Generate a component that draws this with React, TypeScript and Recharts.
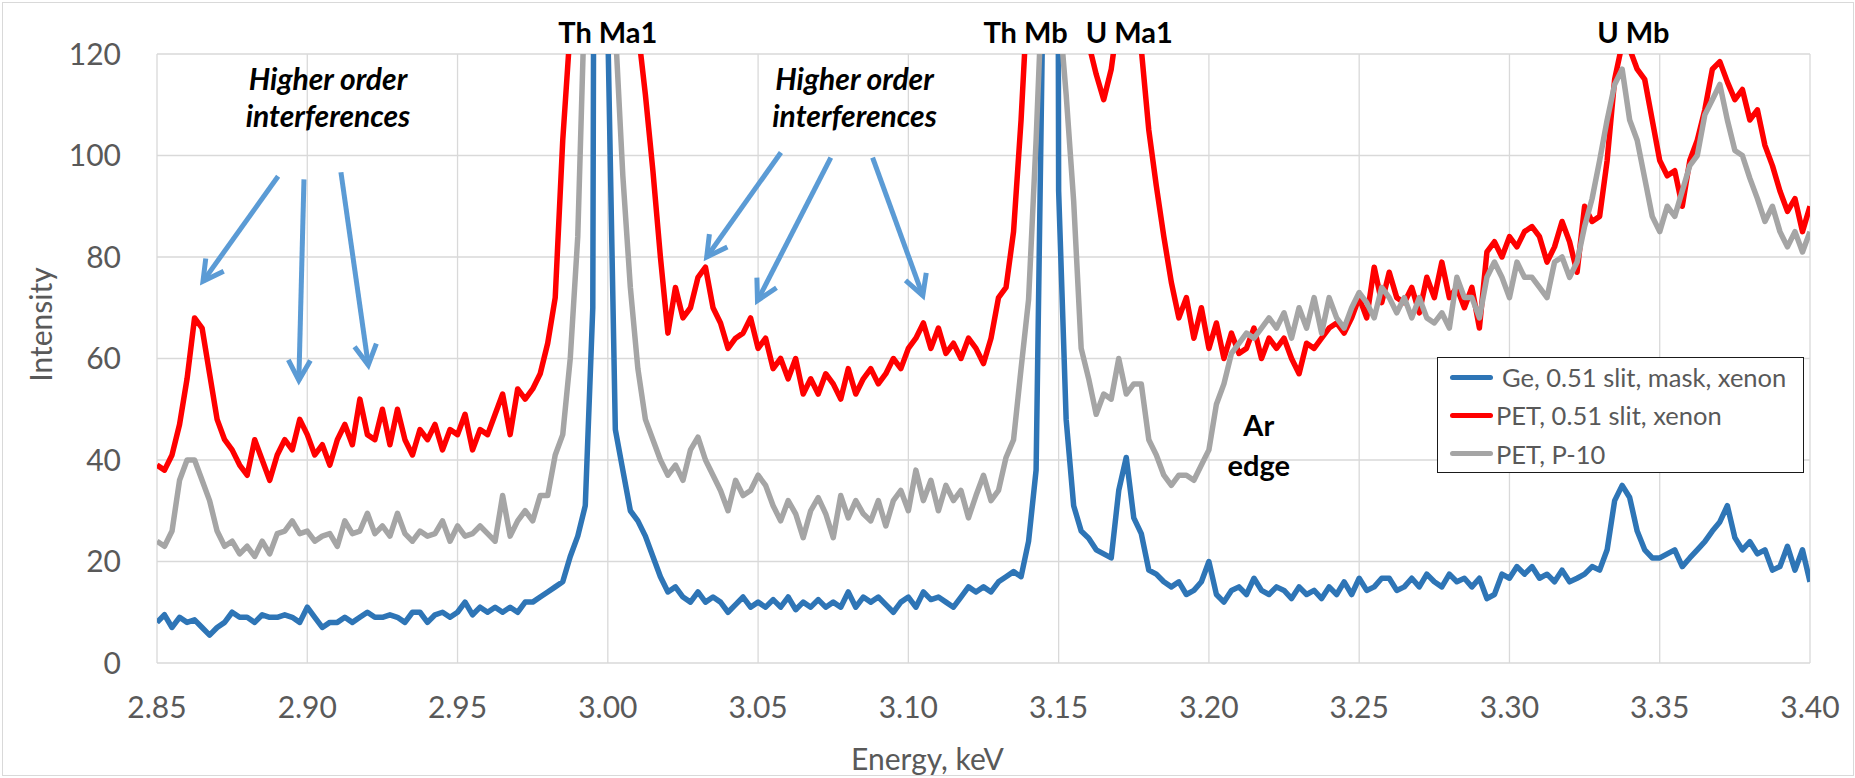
import React from 'react'
import { LineChart, Line, XAxis, YAxis, CartesianGrid, Legend, ReferenceDot, ReferenceLine } from 'recharts'

const FONT = 'Lato, "Open Sans", sans-serif'

// energy grid of the spectra: 2.85 keV, one channel every 2.5 eV
const ENERGY_START = 2.85
const ENERGY_STEP = 0.0025

// Ge, 0.51 slit, mask, xenon
const geSeries = [
  8, 9.5, 7, 9, 8, 8.5, 7, 5.5, 7, 8, 10, 9, 9, 8, 9.5, 9, 9, 9.5, 9, 8,
  11, 9, 7, 8, 8, 9, 8, 9, 10, 9, 9, 9.5, 9, 8, 10, 10, 8, 9.5, 10, 9,
  10, 12, 9.5, 11, 10, 11, 10, 11, 10, 12, 12, 13, 14, 15, 16, 21, 25, 31, 70, 600,
  125, 46, 38, 30, 28, 25, 21, 17, 14, 15, 13, 12, 14, 12, 13, 12, 10, 11.5, 13, 11,
  12, 11, 12.5, 11, 13, 10.5, 12, 11, 12.5, 11, 12, 11, 14, 11, 13, 12, 13, 11.5, 10, 12,
  13, 11, 14, 12.5, 13, 12, 11, 13, 15, 14, 15, 14, 16, 17, 18, 17, 24, 38, 140, 800,
  93, 48, 31, 26, 24.6, 22.3, 21.5, 20.7, 34, 40.5, 28.6, 25.5, 18.3, 17.5, 16, 15, 16, 13.5, 14.3, 16,
  20, 13.5, 12, 14.3, 15, 13.5, 16.7, 14.3, 13.5, 15, 14.3, 12.7, 15, 13.5, 14.3, 12.7, 15, 13.5, 16, 13.5,
  16.7, 14.3, 15, 16.7, 16.7, 14.3, 15, 16.7, 15, 17.5, 16, 15, 17.5, 16, 16.7, 15, 16.7, 12.7, 13.5, 17.5,
  16.7, 19, 17.5, 19, 16.7, 17.5, 16, 18.3, 16, 16.7, 17.5, 19, 18.3, 22.3, 32, 35, 32.6, 26, 22.3, 20.7,
  20.7, 21.5, 22.3, 19, 20.7, 22.3, 23.9, 26, 27.8, 31, 24.7, 22.3, 23.9, 21.5, 22.3, 18.3, 19, 23, 18.3, 22.3,
  16,
]

// PET, 0.51 slit, xenon
const petXenonSeries = [
  39, 38, 41, 47, 56, 68, 66, 57, 48, 44, 42, 39, 37, 44, 40, 36, 41, 44, 42, 48,
  45, 41, 43, 39, 44, 47, 43, 52, 45, 44, 50, 43, 50, 44, 41, 46, 44, 47, 42, 46,
  45, 49, 42, 46, 45, 49, 53, 45, 54, 52, 54, 57, 63, 72, 103, 125, 160, 200, 300, 600,
  300, 200, 150, 135, 125, 112, 97, 80, 65, 74, 68, 70, 76, 78, 70, 67, 62, 64, 65, 68,
  62, 64, 58, 60, 56, 60, 53, 56, 53, 57, 55, 52, 58, 53, 56, 58, 55, 57, 60, 58,
  62, 64, 67, 62, 66, 61, 63, 60, 64, 62, 59, 64, 72, 74, 85, 107, 135, 180, 300, 600,
  300, 180, 140, 128, 122, 116, 111, 117, 128, 135, 130, 121, 105, 94, 84, 75, 68, 72, 64, 70,
  62, 67, 60, 65, 61, 62, 66, 60, 64, 62, 64, 60, 57, 63, 62, 64, 66, 67, 65, 68,
  72, 68, 78, 71, 77, 72, 71, 74, 69, 76, 72, 79, 72, 74, 70, 74, 66, 81, 83, 80,
  84, 82, 85, 86, 84, 79, 82, 87, 83, 77, 90, 87, 88, 99, 115, 122, 121, 117, 115, 107,
  99, 96, 97, 90, 99, 103, 109, 117, 118.5, 114.5, 111, 113, 107, 109, 102, 98, 93, 89, 91.5, 85,
  90,
]

// PET, P-10
const petP10Series = [
  24, 23, 26, 36, 40, 40, 36, 32, 26, 23, 24, 21.5, 23, 21, 24, 21.5, 25.5, 26, 28, 25.5,
  26, 24, 25, 25.5, 23, 28, 25.5, 26, 29.5, 25.5, 27, 25, 29.5, 25.5, 24, 26, 25, 25.5, 28, 24,
  27, 25, 25.5, 27, 25.5, 24, 33, 25, 28, 30, 28, 33, 33, 41, 45, 60, 84, 135, 250, 400,
  250, 125, 96, 74, 58, 48, 44, 40, 37, 39, 36, 42, 44.5, 40, 37, 34, 30, 36, 33, 34,
  37, 35, 31, 28, 32, 29.4, 24.7, 30, 32.6, 29.4, 24.7, 33, 28.6, 32, 29.4, 28, 32, 27, 32, 34,
  30, 38, 32, 36, 30, 35, 32, 34, 28.6, 33, 37, 32, 34, 40.5, 44, 58, 71.6, 103, 140, 300,
  130, 112, 91, 62, 56, 49, 53, 52, 60, 53, 55, 55, 44, 41, 37, 35, 37, 37, 36, 39,
  42, 51, 55, 61, 63, 65, 64, 66, 68, 66, 69, 64, 70, 66, 72, 65, 72, 68, 66, 70,
  73, 71, 68, 74, 72, 69, 72, 68, 72, 68, 67, 69, 66, 76, 72, 72, 68, 76, 79, 76,
  72, 79, 76, 76, 74, 72, 79, 80, 76, 79, 86, 91.5, 99, 107, 114, 117, 107, 103, 95.5, 88,
  85, 90, 88, 93, 98, 100, 108, 111, 114, 107, 101, 100, 95.5, 91.5, 87, 90, 85, 82, 85, 81,
  85,
]

const energyTicks = [2.85, 2.9, 2.95, 3.0, 3.05, 3.1, 3.15, 3.2, 3.25, 3.3, 3.35, 3.4]
const intensityTicks = [0, 20, 40, 60, 80, 100, 120]

const seriesInfo = [
  { key: 'ge', name: 'Ge, 0.51 slit, mask, xenon', color: '#2E75B6' },
  { key: 'petXe', name: 'PET, 0.51 slit, xenon', color: '#FF0000' },
  { key: 'petP10', name: 'PET, P-10', color: '#A5A5A5' },
]

// line names above the peaks
const peakLabels = [
  { text: 'Th Ma1', energy: 3.0, intensity: 122.2 },
  { text: 'Th Mb', energy: 3.139, intensity: 122.2 },
  { text: 'U Ma1', energy: 3.1735, intensity: 122.2 },
  { text: 'U Mb', energy: 3.3412, intensity: 122.2 },
]

const notes = [
  { text: 'Higher order', energy: 2.9069, intensity: 113, italic: true },
  { text: 'interferences', energy: 2.9069, intensity: 105.6, italic: true },
  { text: 'Higher order', energy: 3.0821, intensity: 113, italic: true },
  { text: 'interferences', energy: 3.0821, intensity: 105.6, italic: true },
  { text: 'Ar', energy: 3.2166, intensity: 44.7, italic: false },
  { text: 'edge', energy: 3.2166, intensity: 36.8, italic: false },
]

const arrows = [
  { from: [2.8903, 95.9], to: [2.8653, 75.2] },
  { from: [2.8989, 95.3], to: [2.8972, 55.7] },
  { from: [2.9112, 96.7], to: [2.9203, 58.7] },
  { from: [3.0576, 100.6], to: [3.0329, 80.0] },
  { from: [3.0742, 99.6], to: [3.0498, 71.4] },
  { from: [3.0881, 99.6], to: [3.1048, 72.4] },
]

const rows = geSeries.map((ge, i) => ({
  energy: +(ENERGY_START + i * ENERGY_STEP).toFixed(4),
  ge,
  petXe: petXenonSeries[i],
  petP10: petP10Series[i],
}))

const ARROW_COLOR = '#5B9BD5'

function ArrowShape(props: any) {
  const { x1, y1, x2, y2 } = props
  const ang = Math.atan2(y2 - y1, x2 - x1)
  const len = 23
  const spread = 0.5
  const ax = x2 - len * Math.cos(ang - spread)
  const ay = y2 - len * Math.sin(ang - spread)
  const bx = x2 - len * Math.cos(ang + spread)
  const by = y2 - len * Math.sin(ang + spread)
  return (
    <g>
      <line x1={x1} y1={y1} x2={x2} y2={y2} stroke={ARROW_COLOR} strokeWidth={5} />
      <polyline
        points={`${ax},${ay} ${x2},${y2} ${bx},${by}`}
        fill="none"
        stroke={ARROW_COLOR}
        strokeWidth={5}
      />
    </g>
  )
}

function renderLegend() {
  return (
    <div
      style={{
        boxSizing: 'border-box',
        width: 367,
        height: 116,
        border: '1.5px solid #1a1a1a',
        background: '#fff',
        fontFamily: FONT,
        fontSize: 25.5,
        color: '#595959',
      }}
    >
      {seriesInfo.map((s, i) => (
        <div key={s.key} style={{ height: 38.3, display: 'flex', alignItems: 'center' }}>
          <div style={{ width: 43, height: 5, marginLeft: 12, background: s.color, borderRadius: 2.5 }} />
          <span style={{ marginLeft: i === 0 ? 9 : 3, whiteSpace: 'nowrap' }}>{s.name}</span>
        </div>
      ))}
    </div>
  )
}

export default function App() {
  return (
    <div style={{ position: 'fixed', left: 0, top: 0, width: 1855, height: 778, background: '#fff', fontFamily: FONT }}>
      <div style={{ position: 'absolute', left: 2, top: 2, width: 1850, height: 772, border: '1px solid #d9d9d9' }} />
      <LineChart width={1855} height={778} data={rows} margin={{ top: 54, right: 45, bottom: 55, left: 97 }}>
        <CartesianGrid stroke="#d9d9d9" strokeWidth={1.3} />
        <XAxis
          dataKey="energy"
          type="number"
          domain={[2.85, 3.4]}
          ticks={energyTicks}
          interval={0}
          allowDataOverflow
          tickFormatter={(v: number) => v.toFixed(2)}
          axisLine={false}
          tickLine={false}
          tickSize={0}
          tickMargin={34}
          height={60}
          tick={{ fill: '#595959', fontSize: 30, fontFamily: FONT }}
          label={(p: any) => (
            <text
              x={p.viewBox.x + p.viewBox.width / 2 - 56}
              y={p.viewBox.y + 107}
              textAnchor="middle"
              fontSize={30}
              fill="#595959"
              fontFamily={FONT}
            >
              Energy, keV
            </text>
          )}
        />
        <YAxis
          type="number"
          domain={[0, 120]}
          ticks={intensityTicks}
          interval={0}
          allowDataOverflow
          axisLine={false}
          tickLine={false}
          tickSize={0}
          tickMargin={36}
          width={60}
          tick={{ fill: '#595959', fontSize: 30, fontFamily: FONT }}
          label={(p: any) => {
            const cx = p.viewBox.x - 57
            const cy = p.viewBox.y + p.viewBox.height / 2 - 34
            return (
              <text
                x={cx}
                y={cy}
                transform={`rotate(-90 ${cx} ${cy})`}
                textAnchor="middle"
                dominantBaseline="central"
                fontSize={30}
                fill="#595959"
                fontFamily={FONT}
              >
                Intensity
              </text>
            )
          }}
        />
        {seriesInfo.map((s) => (
          <Line
            key={s.key}
            type="linear"
            dataKey={s.key}
            name={s.name}
            stroke={s.color}
            strokeWidth={5.5}
            strokeLinejoin="round"
            dot={false}
            activeDot={false}
            isAnimationActive={false}
          />
        ))}
        {arrows.map((a, i) => (
          <ReferenceLine
            key={'arrow' + i}
            segment={[
              { x: a.from[0], y: a.from[1] },
              { x: a.to[0], y: a.to[1] },
            ]}
            ifOverflow="visible"
            shape={ArrowShape}
          />
        ))}
        {peakLabels.map((l) => (
          <ReferenceDot
            key={l.text}
            x={l.energy}
            y={l.intensity}
            r={0}
            ifOverflow="visible"
            shape={(p: any) => (
              <text x={p.cx} y={p.cy} textAnchor="middle" fontSize={29} fontWeight={700} fill="#000" fontFamily={FONT}>
                {l.text}
              </text>
            )}
          />
        ))}
        {notes.map((n, i) => (
          <ReferenceDot
            key={'note' + i}
            x={n.energy}
            y={n.intensity}
            r={0}
            ifOverflow="visible"
            shape={(p: any) => (
              <text
                x={p.cx}
                y={p.cy}
                textAnchor="middle"
                fontSize={n.italic ? 30 : 29}
                fontWeight={700}
                fontStyle={n.italic ? 'italic' : 'normal'}
                fill="#000"
                fontFamily={FONT}
              >
                {n.text}
              </text>
            )}
          />
        ))}
        <Legend
          layout="vertical"
          align="center"
          verticalAlign="middle"
          wrapperStyle={{ left: 1437, top: 357, width: 367, height: 116 }}
          content={renderLegend}
        />
      </LineChart>
    </div>
  )
}
